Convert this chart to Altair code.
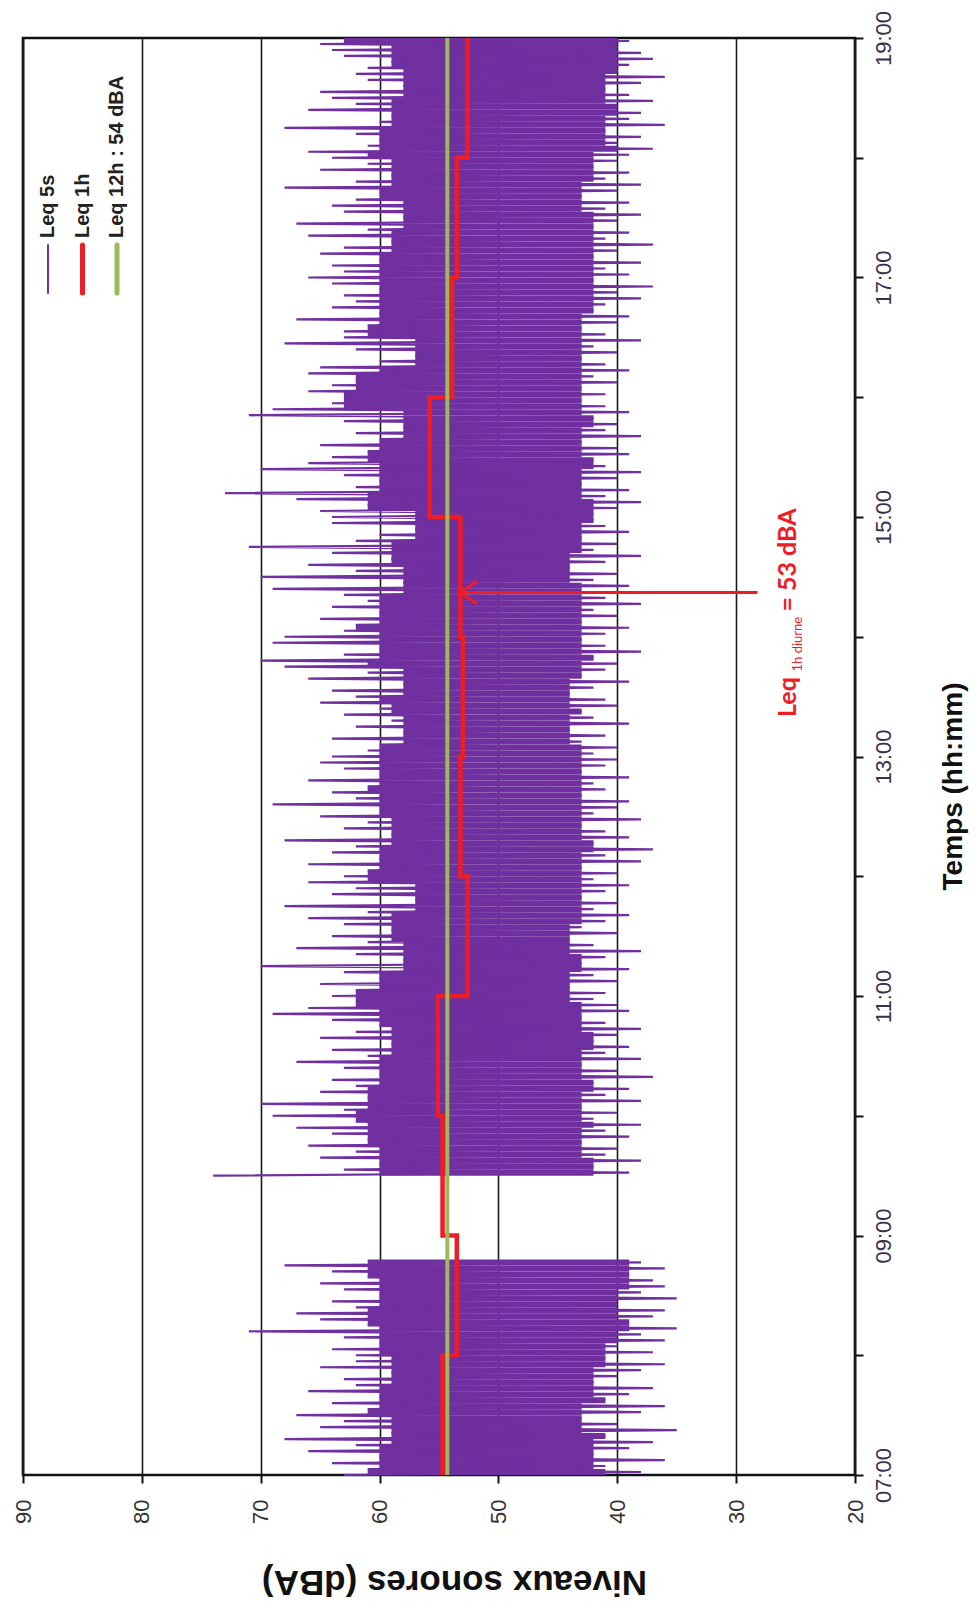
import altair as alt
import pandas as pd

# ---------------------------------------------------------------------------
# Leq 5 s trace, one pair (peak, dip) in dBA every 3 minutes, per hour block
# ---------------------------------------------------------------------------
peaks_07 = [63, 61, 64, 60, 66, 62, 68, 59, 65, 63, 67, 61, 64, 60, 66, 62, 63, 59, 65, 62]
dips_07 = [38, 41, 36, 42, 39, 37, 41, 35, 40, 43, 38, 36, 41, 39, 37, 42, 40, 38, 36, 41]

peaks_08 = [62, 64, 60, 63, 71, 61, 65, 67, 62, 64, 60, 63, 65, 61, 64, 68]
dips_08 = [37, 40, 36, 38, 35, 39, 37, 36, 40, 35, 38, 36, 37, 39, 36, 38]

peaks_09 = [74, 63, 60, 65, 62, 66, 61, 64, 67, 62]
dips_09 = [39, 42, 38, 41, 40, 43, 39, 41, 38, 42]

peaks_10 = [69, 63, 70, 61, 65, 62, 64, 60, 63, 67, 61, 64, 59, 65, 62, 60, 64, 69, 66, 62]
dips_10 = [40, 43, 38, 41, 39, 42, 37, 40, 43, 38, 41, 39, 42, 40, 38, 41, 43, 39, 40, 42]

peaks_11 = [64, 62, 65, 60, 63, 70, 58, 62, 67, 61, 64, 59, 63, 66, 61, 68, 57, 64, 62, 66]
dips_11 = [41, 44, 40, 42, 39, 43, 41, 38, 42, 44, 40, 43, 41, 39, 42, 40, 43, 41, 39, 42]

peaks_12 = [63, 61, 66, 60, 64, 62, 68, 59, 63, 61, 65, 60, 69, 62, 64, 61, 66, 60, 63, 65]
dips_12 = [40, 43, 38, 41, 37, 42, 39, 41, 43, 38, 42, 40, 39, 43, 41, 42, 39, 43, 41, 40]

peaks_13 = [64, 61, 60, 64, 58, 62, 59, 63, 60, 65, 62, 64, 58, 66, 61, 68, 70, 63, 60, 69]
dips_13 = [42, 40, 43, 41, 44, 39, 42, 43, 40, 41, 44, 42, 39, 43, 41, 40, 42, 38, 41, 43]

peaks_14 = [68, 63, 62, 65, 60, 64, 61, 63, 69, 58, 70, 62, 66, 59, 64, 71, 62, 60, 57, 64]
dips_14 = [41, 39, 43, 40, 42, 38, 41, 43, 39, 42, 40, 44, 41, 38, 42, 40, 43, 39, 41, 42]

peaks_15 = [64, 65, 61, 67, 73, 62, 60, 63, 70, 66, 64, 61, 65, 60, 62, 58, 63, 71, 69, 64]
dips_15 = [42, 40, 38, 41, 39, 43, 40, 38, 41, 42, 39, 40, 43, 38, 41, 40, 42, 39, 41, 43]

peaks_16 = [63, 66, 64, 62, 66, 65, 60, 57, 62, 68, 63, 63, 61, 67, 60, 64, 62, 63, 60, 64]
dips_16 = [41, 43, 40, 42, 39, 41, 43, 40, 42, 38, 41, 43, 40, 39, 42, 41, 38, 40, 37, 42]

peaks_17 = [66, 63, 64, 60, 65, 63, 59, 66, 61, 67, 58, 63, 64, 62, 60, 68, 62, 59, 65, 61]
dips_17 = [39, 41, 38, 42, 40, 37, 41, 39, 42, 40, 38, 41, 39, 43, 40, 38, 41, 39, 42, 40]

peaks_18 = [64, 66, 61, 60, 62, 68, 60, 59, 66, 62, 64, 65, 58, 61, 62, 61, 59, 63, 64, 65]
dips_18 = [39, 37, 40, 38, 41, 36, 39, 38, 40, 37, 39, 41, 38, 36, 40, 39, 37, 38, 40, 39]

# block start (decimal hour), peaks, dips, recording run
blocks = [
    (7.0, peaks_07, dips_07, 0),
    (8.0, peaks_08, dips_08, 0),
    (9.5, peaks_09, dips_09, 1),
    (10.0, peaks_10, dips_10, 1),
    (11.0, peaks_11, dips_11, 1),
    (12.0, peaks_12, dips_12, 1),
    (13.0, peaks_13, dips_13, 1),
    (14.0, peaks_14, dips_14, 1),
    (15.0, peaks_15, dips_15, 1),
    (16.0, peaks_16, dips_16, 1),
    (17.0, peaks_17, dips_17, 1),
    (18.0, peaks_18, dips_18, 1),
]
STEP_H = 3 / 60

# Hourly Leq (dBA), 07:00 -> 19:00
leq_1h_start = [7, 8, 9, 10, 11, 12, 13, 14, 15, 16, 17, 18]
leq_1h = [54.7, 53.5, 54.7, 55.1, 52.6, 53.2, 53.0, 53.2, 55.8, 53.9, 53.5, 52.6]

# 12-hour Leq (dBA)
LEQ_12H = 54.3

DB_TICKS = [20, 30, 40, 50, 60, 70, 80, 90]
HOUR_TICKS = list(range(7, 20))

PURPLE = "#7030A0"
RED = "#EE1C25"
GREEN = "#9BBB59"
FONT = "Liberation Sans"

# ---------------------------------------------------------------------------
rows = []
pairs = []
seq = 0
for start, pk, dp, run in blocks:
    for i, (a, b) in enumerate(zip(pk, dp)):
        t = start + i * STEP_H
        rows.append({"t": t, "db": a, "run": run, "seq": seq})
        seq += 1
        rows.append({"t": t + STEP_H / 2, "db": b, "run": run, "seq": seq})
        seq += 1
        pairs.append({"t": t, "t2": t + STEP_H, "peak": a, "dip": b, "run": run})
trace = pd.DataFrame(rows)

# Dense body of the 5 s signal: the range that neighbouring samples all cover
band = pd.DataFrame(pairs)
band["db"] = band.groupby("run")["peak"].transform(
    lambda s: s.rolling(5, center=True, min_periods=1).min())
band["db2"] = band.groupby("run")["dip"].transform(
    lambda s: s.rolling(5, center=True, min_periods=1).max())

step_rows = []
k = 0
for h, v in zip(leq_1h_start, leq_1h):
    step_rows.append({"t": h, "db": v, "seq": k})
    step_rows.append({"t": h + 1, "db": v, "seq": k + 1})
    k += 2
steps = pd.DataFrame(step_rows)

x_enc = alt.X(
    "db:Q",
    scale=alt.Scale(domain=[20, 90], reverse=True, nice=False, zero=False),
    axis=alt.Axis(
        values=DB_TICKS,
        title="Niveaux sonores (dBA)",
        titleFont=FONT, titleFontSize=35, titleFontWeight="bold", titleColor="#111",
        titleAngle=180, titleAlign="center", titleBaseline="middle",
        titleX=431, titleY=106,
        labelFont=FONT, labelFontSize=22, labelColor="#333",
        labelAngle=270, labelAlign="right", labelBaseline="middle",
        labelPadding=16, labelFlush=False, labelOverlap=False,
        domain=False, ticks=True, tickSize=8, tickWidth=2, tickColor="#111",
        grid=True, gridColor="#1a1a1a", gridWidth=1.6,
    ),
)
y_enc = alt.Y(
    "t:Q",
    scale=alt.Scale(domain=[7, 19], nice=False, zero=False),
    axis=alt.Axis(
        orient="right",
        values=HOUR_TICKS,
        labelExpr="datum.value % 2 == 1 ? (datum.value < 10 ? '0' : '') + datum.value + ':00' : ''",
        title="Temps (hh:mm)",
        titleFont=FONT, titleFontSize=28, titleFontWeight="bold", titleColor="#111",
        titleAngle=270, titleAlign="center", titleBaseline="middle",
        titleX=98, titleY=748,
        labelFont=FONT, labelFontSize=22, labelColor="#3a2f4c",
        labelAngle=270, labelAlign="center", labelBaseline="top",
        labelPadding=10, labelFlush=False, labelOverlap=False,
        domain=False, ticks=True, tickSize=8, tickWidth=2, tickColor="#111",
        grid=False,
    ),
)

band_layer = alt.Chart(band).mark_rect(color=PURPLE, opacity=1).encode(
    x=x_enc, x2="db2:Q", y=y_enc, y2="t2:Q"
)

trace_layer = alt.Chart(trace).mark_line(
    color=PURPLE, strokeWidth=2.2, strokeJoin="bevel"
).encode(x=x_enc, y=y_enc, detail="run:N", order="seq:Q")

step_layer = alt.Chart(steps).mark_line(
    color=RED, strokeWidth=4.5, strokeJoin="miter"
).encode(x=x_enc, y=y_enc, order="seq:Q")

day_layer = alt.Chart(pd.DataFrame({"db": [LEQ_12H], "t": [7], "t2": [19]})).mark_rule(
    color=GREEN, strokeWidth=4
).encode(x=x_enc, y=y_enc, y2="t2:Q")

# Arrow pointing at the 14:00 hourly value
ARROW_T = 14.37
tip = leq_1h[leq_1h_start.index(14)]
arrow = alt.Chart(pd.DataFrame({"db": [28.2], "db2": [tip], "t": [ARROW_T]})).mark_rule(
    color=RED, strokeWidth=3
).encode(x=x_enc, x2="db2:Q", y=y_enc)
arms = alt.Chart(pd.DataFrame({
    "db": [tip, tip], "db2": [tip - 1.3, tip - 1.3],
    "t": [ARROW_T, ARROW_T], "t2": [ARROW_T + 0.09, ARROW_T - 0.09],
})).mark_rule(color=RED, strokeWidth=3, strokeCap="round").encode(
    x=x_enc, x2="db2:Q", y=y_enc, y2="t2:Q"
)

note_main = alt.Chart(pd.DataFrame({
    "db": [24.97, 24.97], "t": [13.33, 14.21],
    "label": ["Leq", f"= {round(tip)} dBA"],
})).mark_text(
    angle=270, align="left", baseline="alphabetic", color=RED,
    font="Lato", fontSize=25, fontWeight="bold",
).encode(x=x_enc, y=y_enc, text="label:N")
note_sub = alt.Chart(pd.DataFrame({
    "db": [24.46], "t": [13.71], "label": ["1h diurne"],
})).mark_text(
    angle=270, align="left", baseline="alphabetic", color=RED,
    font="Lato", fontSize=13,
).encode(x=x_enc, y=y_enc, text="label:N")

# Legend drawn inside the plot, rotated like the rest of the chart
legend_names = ["Leq 5s", "Leq 1h", f"Leq 12h : {round(LEQ_12H)} dBA"]
legend_colors = [PURPLE, RED, GREEN]
legend_widths = [2, 5, 5]
legend_layers = []
one = pd.DataFrame({"k": [0]})
for i, (name, col, w) in enumerate(zip(legend_names, legend_colors, legend_widths)):
    px = 25 + i * 34.5
    legend_layers.append(
        alt.Chart(one).mark_rule(color=col, strokeWidth=w, strokeCap="round").encode(
            x=alt.value(px), y=alt.value(207), y2=alt.value(255)
        )
    )
    legend_layers.append(
        alt.Chart(one).mark_text(
            angle=270, align="left", baseline="middle", color="#222",
            font=FONT, fontSize=20, fontWeight="bold", text=name,
        ).encode(x=alt.value(px), y=alt.value(200))
    )

chart = alt.layer(
    band_layer, trace_layer, step_layer, day_layer, arrow, arms,
    note_main, note_sub, *legend_layers
).properties(
    width=832,
    height=1437,
    padding={"left": 23, "top": 38, "right": 121, "bottom": 138},
    autosize=alt.AutoSizeParams(type="none"),
    background="white",
).configure_view(
    stroke="#111", strokeWidth=2.6
)

chart.save("out.html", embed_options={"renderer": "svg", "actions": False})
